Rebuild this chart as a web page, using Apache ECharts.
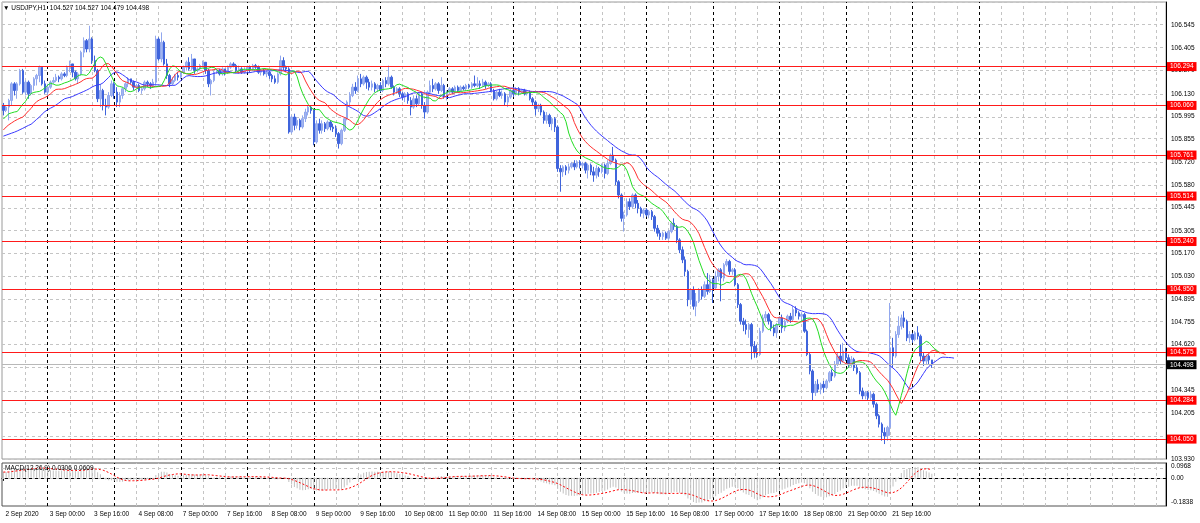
<!DOCTYPE html>
<html><head><meta charset="utf-8">
<script src="https://cdn.jsdelivr.net/npm/echarts@6/dist/echarts.min.js"></script>
<style>html,body{margin:0;padding:0;background:#fff;}#c{width:1200px;height:523px;}</style>
</head><body><div id="c"></div>
<script>
// ---- DATA ----
// USDJPY H1 candles: [open, close, low, high], first bar 2 Sep 2020 08:00
const bars = [
[106.06,106.03,106.00,106.075],[106.03,106.05,106.02,106.06],[106.05,106.09,105.97,106.10],[106.09,106.19,106.06,106.20],
[106.19,106.15,106.12,106.20],[106.15,106.19,106.10,106.20],[106.19,106.27,106.18,106.28],[106.27,106.14,106.13,106.28],
[106.14,106.20,106.12,106.21],[106.20,106.13,106.10,106.21],[106.13,106.18,106.12,106.19],[106.18,106.22,106.15,106.23],
[106.22,106.24,106.18,106.25],[106.24,106.29,106.20,106.30],[106.29,106.19,106.18,106.29],[106.19,106.14,106.13,106.21],
[106.14,106.17,106.12,106.19],[106.17,106.20,106.16,106.21],[106.20,106.21,106.19,106.23],[106.21,106.23,106.20,106.25],
[106.23,106.22,106.20,106.24],[106.22,106.25,106.21,106.26],[106.25,106.24,106.23,106.26],[106.24,106.29,106.23,106.30],
[106.29,106.31,106.26,106.33],[106.31,106.26,106.23,106.31],[106.26,106.22,106.21,106.27],[106.22,106.25,106.19,106.26],
[106.25,106.38,106.24,106.39],[106.38,106.45,106.35,106.47],[106.45,106.40,106.38,106.46],[106.40,106.46,106.38,106.54],
[106.46,106.33,106.31,106.47],[106.33,106.27,106.26,106.36],[106.27,106.10,106.08,106.28],[106.10,106.15,106.05,106.19],
[106.15,106.06,106.03,106.16],[106.06,106.05,106.00,106.10],[106.05,106.12,106.04,106.14],[106.12,106.19,106.11,106.21],
[106.19,106.14,106.10,106.20],[106.14,106.08,106.05,106.17],[106.08,106.12,106.05,106.14],[106.12,106.16,106.10,106.17],
[106.16,106.19,106.14,106.20],[106.19,106.22,106.17,106.23],[106.22,106.20,106.19,106.22],[106.20,106.17,106.15,106.21],
[106.17,106.18,106.16,106.19],[106.18,106.15,106.14,106.19],[106.15,106.16,106.13,106.17],[106.16,106.20,106.15,106.21],
[106.20,106.19,106.17,106.21],[106.19,106.18,106.16,106.20],[106.18,106.20,106.17,106.22],[106.20,106.46,106.18,106.48],
[106.46,106.34,106.33,106.47],[106.34,106.44,106.32,106.50],[106.44,106.31,106.30,106.45],[106.31,106.24,106.22,106.34],
[106.24,106.19,106.17,106.25],[106.19,106.21,106.18,106.23],[106.21,106.24,106.20,106.25],[106.24,106.23,106.21,106.26],
[106.23,106.26,106.22,106.27],[106.26,106.29,106.25,106.30],[106.29,106.32,106.27,106.33],[106.32,106.28,106.27,106.35],
[106.28,106.34,106.27,106.37],[106.34,106.27,106.25,106.34],[106.27,106.28,106.26,106.29],[106.28,106.30,106.27,106.31],
[106.30,106.32,106.29,106.33],[106.32,106.27,106.25,106.32],[106.27,106.19,106.17,106.28],[106.19,106.21,106.12,106.22],
[106.21,106.26,106.20,106.27],[106.26,106.27,106.25,106.28],[106.27,106.25,106.24,106.28],[106.25,106.28,106.24,106.29],
[106.28,106.26,106.24,106.28],[106.26,106.29,106.25,106.30],[106.29,106.31,106.28,106.32],[106.31,106.30,106.29,106.32],
[106.30,106.27,106.26,106.31],[106.27,106.28,106.25,106.30],[106.28,106.26,106.25,106.29],[106.26,106.27,106.25,106.29],
[106.27,106.29,106.26,106.30],[106.29,106.28,106.26,106.30],[106.28,106.30,106.27,106.31],[106.30,106.29,106.28,106.31],
[106.29,106.26,106.25,106.30],[106.26,106.27,106.24,106.28],[106.27,106.25,106.24,106.28],[106.25,106.26,106.23,106.27],
[106.26,106.24,106.22,106.27],[106.24,106.22,106.20,106.25],[106.22,106.20,106.19,106.24],[106.20,106.25,106.19,106.26],
[106.25,106.33,106.24,106.36],[106.33,106.29,106.27,106.35],[106.29,106.28,106.26,106.30],[106.28,105.90,105.89,106.29],
[105.90,105.99,105.89,106.00],[105.99,105.94,105.91,106.01],[105.94,105.97,105.92,105.99],[105.97,105.93,105.91,105.98],
[105.93,105.98,105.92,106.00],[105.98,106.02,105.96,106.04],[106.02,106.05,106.00,106.06],[106.05,106.03,106.01,106.06],
[106.03,105.84,105.82,106.04],[105.84,105.95,105.83,105.97],[105.95,105.91,105.89,105.98],[105.91,105.95,105.89,105.97],
[105.95,105.92,105.90,105.96],[105.92,105.96,105.91,105.97],[105.96,105.93,105.91,105.97],[105.93,105.92,105.90,105.95],
[105.92,105.89,105.87,105.94],[105.89,105.83,105.80,105.90],[105.83,105.91,105.82,105.92],[105.91,105.98,105.90,105.99],
[105.98,106.08,105.97,106.09],[106.08,106.12,106.06,106.14],[106.12,106.17,106.11,106.19],[106.17,106.15,106.13,106.20],
[106.15,106.22,106.14,106.24],[106.22,106.19,106.17,106.25],[106.19,106.23,106.18,106.24],[106.23,106.20,106.16,106.24],
[106.20,106.17,106.15,106.22],[106.17,106.19,106.15,106.21],[106.19,106.16,106.14,106.20],[106.16,106.18,106.14,106.19],
[106.18,106.15,106.14,106.20],[106.15,106.21,106.14,106.22],[106.21,106.19,106.17,106.23],[106.19,106.23,106.18,106.30],
[106.23,106.17,106.16,106.24],[106.17,106.14,106.12,106.18],[106.14,106.16,106.13,106.17],[106.16,106.13,106.11,106.17],
[106.13,106.11,106.09,106.14],[106.11,106.13,106.08,106.14],[106.13,106.09,106.07,106.14],[106.09,106.05,106.00,106.11],
[106.05,106.10,106.04,106.12],[106.10,106.07,106.05,106.12],[106.07,106.13,106.06,106.14],[106.13,106.06,106.04,106.14],
[106.06,106.02,105.98,106.08],[106.02,106.14,106.01,106.15],[106.14,106.18,106.13,106.21],[106.18,106.16,106.14,106.22],
[106.16,106.19,106.15,106.20],[106.19,106.15,106.13,106.20],[106.15,106.18,106.14,106.23],[106.18,106.12,106.10,106.19],
[106.12,106.14,106.09,106.15],[106.14,106.16,106.13,106.17],[106.16,106.14,106.13,106.17],[106.14,106.17,106.13,106.18],
[106.17,106.15,106.14,106.18],[106.15,106.17,106.14,106.18],[106.17,106.16,106.15,106.18],[106.16,106.18,106.15,106.19],
[106.18,106.17,106.16,106.19],[106.17,106.19,106.16,106.20],[106.19,106.18,106.17,106.24],[106.18,106.19,106.17,106.23],
[106.19,106.18,106.16,106.21],[106.18,106.20,106.17,106.22],[106.20,106.18,106.16,106.21],[106.18,106.19,106.17,106.20],
[106.19,106.15,106.14,106.20],[106.15,106.10,106.09,106.16],[106.10,106.14,106.09,106.15],[106.14,106.12,106.11,106.16],
[106.12,106.13,106.10,106.15],[106.13,106.08,106.06,106.14],[106.08,106.11,106.05,106.12],[106.11,106.15,106.10,106.16],
[106.15,106.13,106.11,106.17],[106.13,106.16,106.12,106.17],[106.16,106.14,106.12,106.17],[106.14,106.15,106.13,106.16],
[106.15,106.13,106.12,106.16],[106.13,106.14,106.12,106.15],[106.14,106.10,106.09,106.15],[106.10,106.08,106.06,106.11],
[106.08,106.04,106.00,106.09],[106.04,106.06,106.02,106.07],[106.06,106.02,106.00,106.07],[106.02,105.97,105.95,106.03],
[105.97,106.00,105.95,106.02],[106.00,105.95,105.93,106.01],[105.95,105.98,105.91,105.99],[105.98,105.93,105.90,105.99],
[105.93,105.68,105.66,105.94],[105.68,105.66,105.54,105.70],[105.66,105.69,105.63,105.70],[105.69,105.67,105.64,105.70],
[105.67,105.69,105.65,105.71],[105.69,105.71,105.68,105.72],[105.71,105.69,105.67,105.73],[105.69,105.72,105.68,105.73],
[105.72,105.70,105.68,105.73],[105.70,105.71,105.68,105.72],[105.71,105.67,105.65,105.72],[105.67,105.70,105.62,105.71],
[105.70,105.66,105.64,105.71],[105.66,105.64,105.60,105.69],[105.64,105.68,105.62,105.70],[105.68,105.66,105.63,105.69],
[105.66,105.70,105.65,105.71],[105.70,105.65,105.62,105.71],[105.65,105.71,105.64,105.73],[105.71,105.76,105.70,105.77],
[105.76,105.73,105.72,105.81],[105.73,105.60,105.58,105.74],[105.60,105.52,105.50,105.61],[105.52,105.38,105.36,105.53],
[105.38,105.40,105.30,105.42],[105.40,105.48,105.39,105.50],[105.48,105.45,105.43,105.50],[105.45,105.52,105.44,105.53],
[105.52,105.47,105.44,105.53],[105.47,105.44,105.41,105.49],[105.44,105.41,105.39,105.45],[105.41,105.43,105.38,105.44],
[105.43,105.40,105.39,105.44],[105.40,105.42,105.38,105.43],[105.42,105.39,105.37,105.43],[105.39,105.32,105.30,105.40],
[105.32,105.29,105.27,105.34],[105.29,105.27,105.25,105.31],[105.27,105.29,105.25,105.30],[105.29,105.26,105.25,105.30],
[105.26,105.30,105.25,105.31],[105.30,105.35,105.29,105.36],[105.35,105.33,105.31,105.38],[105.33,105.25,105.23,105.34],
[105.25,105.19,105.17,105.26],[105.19,105.13,105.11,105.21],[105.13,105.06,105.03,105.15],[105.06,104.89,104.85,105.07],
[104.89,104.95,104.86,104.96],[104.95,104.85,104.83,104.97],[104.85,104.88,104.79,104.93],[104.88,104.95,104.87,104.96],
[104.95,104.91,104.89,104.97],[104.91,104.98,104.90,105.00],[104.98,104.94,104.92,105.05],[104.94,105.01,104.93,105.04],
[105.01,104.96,104.87,105.02],[104.96,105.03,104.95,105.06],[105.03,105.07,105.00,105.08],[105.07,105.02,104.88,105.08],
[105.02,105.10,105.00,105.11],[105.10,105.12,105.09,105.135],[105.12,105.06,105.04,105.13],[105.06,105.07,105.04,105.08],
[105.07,104.98,104.97,105.08],[104.98,104.86,104.84,104.99],[104.86,104.76,104.74,104.87],[104.76,104.74,104.70,104.78],
[104.74,104.71,104.68,104.77],[104.71,104.74,104.66,104.75],[104.74,104.61,104.53,104.75],[104.61,104.57,104.54,104.64],
[104.57,104.56,104.54,104.62],[104.56,104.70,104.55,104.72],[104.70,104.78,104.69,104.80],[104.78,104.80,104.76,104.82],
[104.80,104.76,104.74,104.81],[104.76,104.72,104.70,104.77],[104.72,104.69,104.67,104.74],[104.69,104.74,104.66,104.75],
[104.74,104.78,104.73,104.79],[104.78,104.72,104.69,104.80],[104.72,104.76,104.70,104.77],[104.76,104.79,104.75,104.80],
[104.79,104.77,104.75,104.81],[104.77,104.83,104.76,104.85],[104.83,104.81,104.79,104.85],[104.81,104.79,104.77,104.82],
[104.79,104.80,104.76,104.81],[104.80,104.70,104.69,104.81],[104.70,104.56,104.55,104.71],[104.56,104.46,104.44,104.57],
[104.46,104.33,104.28,104.47],[104.33,104.38,104.31,104.40],[104.38,104.35,104.33,104.41],[104.35,104.38,104.32,104.39],
[104.38,104.36,104.33,104.40],[104.36,104.40,104.35,104.41],[104.40,104.45,104.39,104.46],[104.45,104.43,104.40,104.47],
[104.43,104.50,104.42,104.52],[104.50,104.55,104.49,104.57],[104.55,104.52,104.50,104.62],[104.52,104.58,104.51,104.63],
[104.58,104.54,104.52,104.60],[104.54,104.50,104.48,104.56],[104.50,104.53,104.48,104.55],[104.53,104.48,104.46,104.54],
[104.48,104.45,104.44,104.50],[104.45,104.34,104.32,104.46],[104.34,104.31,104.29,104.36],[104.31,104.33,104.29,104.34],
[104.33,104.30,104.28,104.34],[104.30,104.32,104.28,104.34],[104.32,104.26,104.24,104.33],[104.26,104.19,104.17,104.27],
[104.19,104.14,104.12,104.20],[104.14,104.09,104.04,104.15],[104.09,104.07,104.02,104.12],[104.07,104.12,104.04,104.13],
[104.12,104.60,104.07,104.87],[104.60,104.55,104.48,104.66],[104.55,104.68,104.54,104.70],[104.68,104.73,104.66,104.79],
[104.73,104.78,104.71,104.80],[104.78,104.76,104.72,104.82],[104.76,104.66,104.64,104.77],[104.66,104.68,104.63,104.70],
[104.68,104.65,104.63,104.69],[104.65,104.69,104.64,104.70],[104.69,104.67,104.65,104.73],[104.67,104.55,104.52,104.68],
[104.55,104.52,104.49,104.57],[104.52,104.55,104.50,104.56],[104.55,104.527,104.50,104.56],[104.527,104.498,104.479,104.527]
];
// Alligator line values at the left edge (before their history starts in view): jaw 8 bars, teeth 5, lips 3
const jawLead = [105.875,105.881,105.887,105.893,105.899,105.906,105.914,105.922];
const teethLead = [105.912,105.930,105.944,105.955,105.966];
const lipsLead = [105.978,105.995,106.010];
// EMA(12), EMA(26) levels before the first bar, estimated from the MACD panel
const emaSeed = [106.02, 105.98];
// horizontal levels drawn on the chart
const levelLines = [106.294,106.060,105.761,105.514,105.240,104.950,104.575,104.284,104.050];
const bidPrice = 104.498;
// axis labels
const timeLabels = ['2 Sep 2020','3 Sep 00:00','3 Sep 16:00','4 Sep 08:00','7 Sep 00:00','7 Sep 16:00','8 Sep 08:00',
 '9 Sep 00:00','9 Sep 16:00','10 Sep 08:00','11 Sep 00:00','11 Sep 16:00','14 Sep 08:00','15 Sep 00:00','15 Sep 16:00',
 '16 Sep 08:00','17 Sep 00:00','17 Sep 16:00','18 Sep 08:00','21 Sep 00:00','21 Sep 16:00'];
const barsPerLabel = 16;
const dayStarts = [16,40,64,88,112,136,160,184,208,232,256,280,304,328,352];
const priceGrid = [106.683,106.545,106.407,106.270,106.132,105.994,105.857,105.719,105.582,105.444,105.306,105.169,
 105.031,104.894,104.756,104.618,104.481,104.343,104.206,104.068,103.930];
const priceTicks = [103.930,104.205,104.345,104.620,104.755,104.895,105.030,105.170,105.305,105.445,105.580,105.720,
 105.855,105.995,106.130,106.270,106.405,106.545];
const priceMin = 103.930, priceMax = 106.683;
const macdTicks = [-0.1838, 0, 0.0968];
const macdTickText = ['-0.1838', '0.00', '0.0968'];
const macdGrid = [0.0641, 0];

// ---- build ----
const totalSlots = 420, gridEvery = 8;
const slots = Array.from({length: totalSlots}, (_, i) => String(i));
const medians = bars.map(b => (b[2] + b[3]) / 2);
function smma(lead, period) {
  const out = lead.slice();
  let s = lead[lead.length - 1];
  medians.forEach(m => { s = (s * (period - 1) + m) / period; out.push(+s.toFixed(4)); });
  return out;
}
const jaw = smma(jawLead, 13), teeth = smma(teethLead, 8), lips = smma(lipsLead, 5);
let e12 = emaSeed[0], e26 = emaSeed[1];
const macd = bars.map(b => { e12 += (b[1] - e12) * 2 / 13; e26 += (b[1] - e26) * 2 / 27; return +(e12 - e26).toFixed(5); });
const signal = macd.map((_, i) => { const w = macd.slice(Math.max(0, i - 8), i + 1); return +(w.reduce((a, b) => a + b, 0) / w.length).toFixed(5); });

const FONT = 'Liberation Sans';
const FS = 6.5;
const grayDash = {color: '#c4c4c4', width: 1, type: [3, 3]};
const darkDash = {color: '#000000', width: 1, type: [3, 3]};
const redLine = {color: '#ff1a1a', width: 1, type: 'solid'};
const vLines = [];
for (let i = gridEvery; i < totalSlots; i += gridEvery) {
  vLines.push({xAxis: i, lineStyle: dayStarts.includes(i) ? darkDash : grayDash});
}
const hGrid = priceGrid.map(v => ({yAxis: v, lineStyle: grayDash}));
const labelAt = i => i % barsPerLabel === 0 && i / barsPerLabel < timeLabels.length;
const lbl = {fontFamily: FONT, fontSize: FS, color: '#000'};
const tagLabel = {show: true, position: 'end', distance: 1, formatter: p => Number(p.value).toFixed(3),
  fontFamily: FONT, fontSize: FS, color: '#fff', backgroundColor: '#ff0000', padding: [1, 3, 1, 3]};

const chart = echarts.init(document.getElementById('c'));
chart.setOption({
  animation: false,
  backgroundColor: '#ffffff',
  textStyle: {fontFamily: FONT},
  title: [
    {text: '\u25BC USDJPY,H1  104.527 104.527 104.479 104.498', left: 3, top: 5, padding: 0,
     textStyle: {fontFamily: FONT, fontSize: FS, fontWeight: 'normal', color: '#000'}},
    {text: 'MACD(12,26,9) 0.0306 0.0609', left: 5, top: 465, padding: 0,
     textStyle: {fontFamily: FONT, fontSize: FS, fontWeight: 'normal', color: '#000'}}
  ],
  grid: [
    {left: 2, right: 34, top: 2, height: 457, show: true, borderColor: '#9a9a9a', borderWidth: 1},
    {left: 2, right: 34, top: 463, height: 43, show: true, borderColor: '#505050', borderWidth: 1}
  ],
  xAxis: [
    {type: 'category', gridIndex: 0, data: slots, boundaryGap: true,
     axisLine: {show: false}, axisTick: {show: false}, axisLabel: {show: false}, splitLine: {show: false}},
    {type: 'category', gridIndex: 1, data: slots, boundaryGap: true,
     axisLine: {show: true, lineStyle: {color: '#000'}},
     axisTick: {show: true, alignWithLabel: true, interval: labelAt, length: 3, lineStyle: {color: '#000'}},
     axisLabel: Object.assign({show: true, interval: labelAt, align: 'left', margin: 5, padding: [0, 0, 0, 2],
       formatter: (v, i) => timeLabels[i / barsPerLabel]}, lbl),
     splitLine: {show: false}}
  ],
  yAxis: [
    {type: 'value', gridIndex: 0, position: 'right', min: priceMin, max: priceMax,
     axisLine: {show: true, lineStyle: {color: '#000'}}, axisTick: {show: false}, splitLine: {show: false},
     axisLabel: Object.assign({customValues: priceTicks, formatter: v => v.toFixed(3), margin: 5, align: 'left'}, lbl)},
    {type: 'value', gridIndex: 1, position: 'right', min: macdTicks[0], max: macdTicks[2],
     axisLine: {show: true, lineStyle: {color: '#000'}}, axisTick: {show: false}, splitLine: {show: false},
     axisLabel: Object.assign({customValues: macdTicks, margin: 5, align: 'left',
       verticalAlignMaxLabel: 'top', verticalAlignMinLabel: 'bottom',
       formatter: v => macdTickText[macdTicks.indexOf(v)] || ''}, lbl)}
  ],
  series: [
    {type: 'line', xAxisIndex: 0, yAxisIndex: 0, data: [], silent: true,
     markLine: {silent: true, symbol: 'none', z: 1, animation: false, label: {show: false},
       data: hGrid.concat(vLines)}},
    {type: 'line', xAxisIndex: 1, yAxisIndex: 1, data: [], silent: true,
     markLine: {silent: true, symbol: 'none', z: 1, animation: false, label: {show: false},
       data: macdGrid.map(v => ({yAxis: v, lineStyle: grayDash})).concat(vLines)}},
    {type: 'candlestick', xAxisIndex: 0, yAxisIndex: 0, data: bars, barWidth: 2, z: 3,
     itemStyle: {color: '#a2b5ef', color0: '#3f64dc', borderColor: '#92a8ee', borderColor0: '#3f64dc', borderWidth: 1}},
    {type: 'line', name: 'levels', xAxisIndex: 0, yAxisIndex: 0, data: [], silent: true, color: '#ff1a1a',
     markLine: {silent: true, symbol: 'none', animation: false, z: 6, precision: 3,
       label: tagLabel, lineStyle: redLine,
       data: levelLines.map(v => ({yAxis: v, lineStyle: redLine, label: tagLabel})).concat([{yAxis: bidPrice,
         lineStyle: {color: '#b8b8b8', width: 1, type: 'solid'},
         label: Object.assign({}, tagLabel, {backgroundColor: '#000', color: '#fff'})}])}},
    {type: 'line', xAxisIndex: 0, yAxisIndex: 0, data: jaw, symbol: 'none', z: 4,
     lineStyle: {color: '#3a3aff', width: 1}},
    {type: 'line', xAxisIndex: 0, yAxisIndex: 0, data: teeth, symbol: 'none', z: 4,
     lineStyle: {color: '#ff3030', width: 1}},
    {type: 'line', xAxisIndex: 0, yAxisIndex: 0, data: lips, symbol: 'none', z: 4,
     lineStyle: {color: '#22dd22', width: 1}},
    {type: 'bar', xAxisIndex: 1, yAxisIndex: 1, data: macd, barWidth: 1, z: 3,
     itemStyle: {color: '#c0c0c0'}},
    {type: 'line', xAxisIndex: 1, yAxisIndex: 1, data: signal, symbol: 'none', z: 4,
     lineStyle: {color: '#ff0000', width: 1, type: [2, 2]}}
  ]
});
</script></body></html>
